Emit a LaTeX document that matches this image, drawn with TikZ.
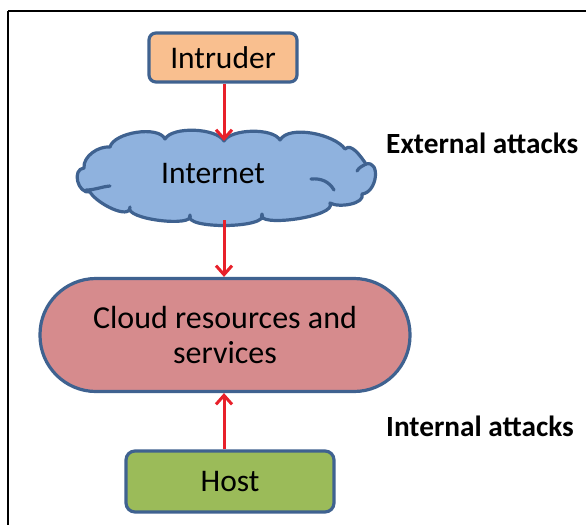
\documentclass[tikz,border=0pt]{standalone}
\usepackage{fontspec}
\setmainfont{Carlito}
\usetikzlibrary{arrows.meta}
\definecolor{edgeblue}{HTML}{3F6290}
\definecolor{intrfill}{HTML}{F9BF8F}
\definecolor{cloudfill}{HTML}{8FB2DE}
\definecolor{crfill}{HTML}{D68B8D}
\definecolor{hostfill}{HTML}{9BBB59}
\definecolor{arrred}{HTML}{E8202A}
\tikzset{
  box/.style={draw=edgeblue, line width=3.2pt, rounded corners=7pt, align=center, font=\fontsize{31.5}{35}\selectfont, inner sep=0pt},
  cloudline/.style={draw=edgeblue, line width=3.2pt, line join=round, line cap=round},
  conn/.style={draw=arrred, line width=3pt, -{Straight Barb[length=9pt,width=16pt,line width=3pt]}},
  lbl/.style={font=\fontsize{29.3}{34}\selectfont\bfseries, anchor=west, inner sep=0pt}
}
\begin{document}
\begin{tikzpicture}[x=1pt,y=-1pt]
\useasboundingbox (0,0) rectangle (586,525);
\fill[white] (0,0) rectangle (586,525);
% frame
\draw[line width=2pt] (8,11) -- (586,11);
\draw[line width=2.4pt] (8,11) -- (8,525);
% cloud outline
\path[cloudline, fill=cloudfill]
  (84,168) to[out=95,in=175,looseness=0.9] (110,147)
  to[out=75,in=115,looseness=0.7] (165,139)
  to[out=60,in=120,looseness=0.65] (224,141)
  to[out=60,in=120,looseness=0.65] (280,140)
  to[out=60,in=125,looseness=0.7] (345,149)
  to[out=45,in=125,looseness=0.9] (366,164)
  to[out=15,in=5,looseness=1.3] (362,194)
  to[out=-70,in=-30,looseness=0.8] (330,203)
  to[out=-60,in=-120,looseness=0.6] (262,214)
  to[out=-60,in=-120,looseness=0.6] (190,215)
  to[out=-65,in=-120,looseness=0.6] (130,207)
  to[out=-90,in=-60,looseness=0.8] (90,192)
  to[out=-170,in=-175,looseness=1.3] cycle;
% inner curls of the cloud
\draw[cloudline] (86,190) to[out=0,in=185] (110,186);
\draw[cloudline] (311,179) to[out=5,in=120] (334,190);
\draw[cloudline] (366,164) to[out=-150,in=60] (357,171);
% nodes
\node[box, fill=intrfill, minimum width=148pt, minimum height=49pt] (intr) at (223,57.5) {Intruder};
\node[inner sep=0pt, font=\fontsize{31.5}{35}\selectfont] (net) at (213,174) {Internet};
\coordinate (nettop) at (224,141);
\coordinate (netbot) at (224,220);
\node[box, fill=crfill, minimum width=370pt, minimum height=113pt, rounded corners=56pt, font=\fontsize{32}{35.5}\selectfont] (cr) at (225,335) {Cloud resources and\\services};
\node[box, fill=hostfill, minimum width=208pt, minimum height=61pt, rounded corners=9pt] (host) at (230,481.5) {Host};
% connectors
\draw[conn] (intr.south -| nettop) -- (nettop);
\draw[conn] (netbot) -- (cr.north -| netbot);
\draw[conn] (host.north -| netbot) -- (cr.south -| netbot);
% labels
\node[lbl] (ext) at (386,143) {External attacks};
\node[lbl] (int) at (386,426) {Internal attacks};
\end{tikzpicture}
\end{document}
